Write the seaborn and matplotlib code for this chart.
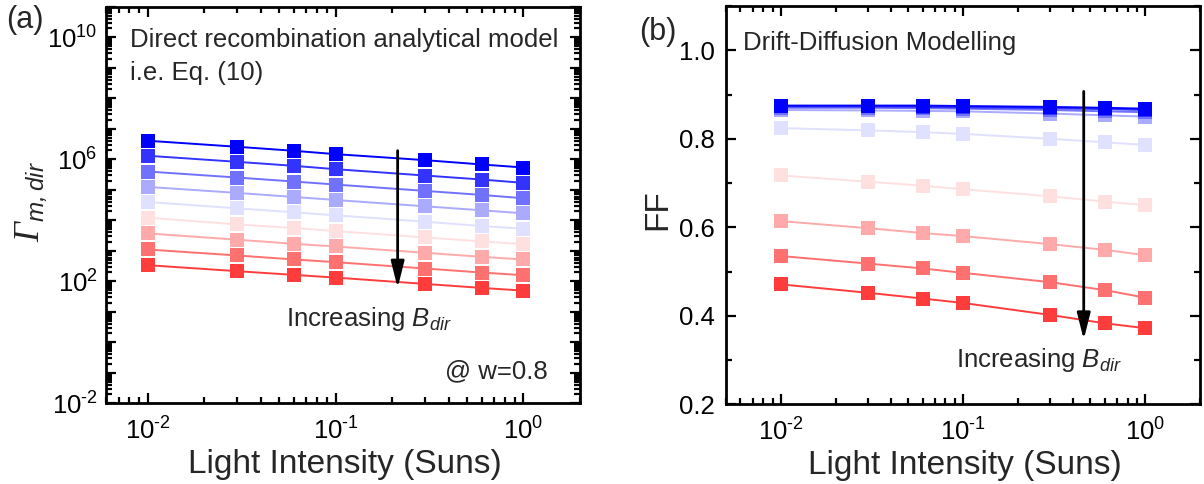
import numpy as np
import pandas as pd
import matplotlib
matplotlib.use("Agg")
import matplotlib.pyplot as plt
from matplotlib.ticker import LogLocator, FuncFormatter, MultipleLocator, NullFormatter
import seaborn as sns

# ---- data -------------------------------------------------------------
intensity = [0.01, 0.03, 0.06, 0.1, 0.3, 0.6, 1.0]  # Suns

# (a) Gamma_m,dir from the direct recombination analytical model, lowest B_dir first
gamma_1 = [4.04e6, 2.56e6, 1.89e6, 1.47e6, 9.33e5, 6.73e5, 5.36e5]
gamma_2 = [1.30e6, 8.22e5, 6.08e5, 4.72e5, 2.92e5, 2.16e5, 1.68e5]
gamma_3 = [3.96e5, 2.51e5, 1.86e5, 1.48e5, 9.16e4, 6.76e4, 5.25e4]
gamma_4 = [1.24e5, 7.87e4, 5.81e4, 4.62e4, 2.86e4, 2.12e4, 1.69e4]
gamma_5 = [3.98e4, 2.46e4, 1.82e4, 1.45e4, 8.97e3, 6.46e3, 5.28e3]
gamma_6 = [1.21e4, 7.33e3, 5.55e3, 4.43e3, 2.74e3, 2.02e3, 1.65e3]
gamma_7 = [3.71e3, 2.30e3, 1.69e3, 1.38e3, 857, 632, 518]
gamma_8 = [1.10e3, 700, 518, 423, 262, 193, 158]
gamma_9 = [337, 214, 162, 132, 81.8, 60.5, 49.4]

# (b) fill factor from drift-diffusion simulations, lowest B_dir first
ff_1 = [0.875, 0.875, 0.875, 0.874, 0.872, 0.870, 0.868]
ff_2 = [0.873, 0.873, 0.872, 0.871, 0.869, 0.867, 0.865]
ff_3 = [0.870, 0.870, 0.869, 0.868, 0.865, 0.862, 0.860]
ff_4 = [0.865, 0.864, 0.863, 0.862, 0.857, 0.853, 0.850]
ff_5 = [0.824, 0.819, 0.815, 0.811, 0.800, 0.792, 0.786]
ff_6 = [0.717, 0.703, 0.694, 0.686, 0.670, 0.658, 0.650]
ff_7 = [0.614, 0.598, 0.587, 0.580, 0.562, 0.549, 0.537]
ff_8 = [0.535, 0.518, 0.507, 0.497, 0.476, 0.458, 0.441]
ff_9 = [0.471, 0.452, 0.439, 0.429, 0.402, 0.383, 0.372]

series_colors = ["#0000FF", "#3333FF", "#7171FF", "#AAAAFF", "#E0E0FF",
                 "#FFE0E0", "#FFAAAA", "#FF7070", "#FF3C3C"]

gamma_ytick_exponents = [-2, 2, 6, 10]

# ---- style ------------------------------------------------------------
sns.set_theme(style="ticks")
plt.rcParams["font.family"] = ["Liberation Sans", "DejaVu Sans"]
plt.rcParams["mathtext.fontset"] = "custom"
plt.rcParams["mathtext.rm"] = "Liberation Sans"
plt.rcParams["mathtext.it"] = "Liberation Sans:italic"
plt.rcParams["mathtext.sf"] = "Liberation Sans:italic"
plt.rcParams["mathtext.bf"] = "Liberation Serif:italic"


def long_frame(rows, value_name):
    frames = []
    for i, vals in enumerate(rows):
        frames.append(pd.DataFrame({"intensity": intensity, value_name: vals,
                                    "series": f"s{i + 1}"}))
    return pd.concat(frames, ignore_index=True)


gamma_rows = [gamma_1, gamma_2, gamma_3, gamma_4, gamma_5, gamma_6, gamma_7, gamma_8, gamma_9]
ff_rows = [ff_1, ff_2, ff_3, ff_4, ff_5, ff_6, ff_7, ff_8, ff_9]
df_gamma = long_frame(gamma_rows, "gamma")
df_ff = long_frame(ff_rows, "ff")

names = [f"s{i + 1}" for i in range(9)]
palette = dict(zip(names, series_colors))
draw_order = names[::-1]  # reddest first, blue on top

W, H = 1204, 484
fig = plt.figure(figsize=(W / 100, H / 100), dpi=100)
fig.patch.set_facecolor("white")

axA = fig.add_axes([106 / W, (H - 403.3) / H, 474 / W, (403.3 - 6.7) / H])
axB = fig.add_axes([726 / W, (H - 404.3) / H, 474 / W, (404.3 - 6.0) / H])

line_kw = dict(marker="s", markersize=10, markeredgewidth=0, linewidth=1.4,
               legend=False, dashes=False)

sns.lineplot(data=df_gamma, x="intensity", y="gamma", hue="series",
             hue_order=draw_order, palette=palette, ax=axA, **line_kw)
sns.lineplot(data=df_ff, x="intensity", y="ff", hue="series",
             hue_order=draw_order, palette=palette, ax=axB, **line_kw)


def power_label(v):
    e = int(round(np.log10(v)))
    return rf"$10^{{\text{{{e}}}}}$"


for ax in (axA, axB):
    ax.set_facecolor("white")
    ax.set_xscale("log")
    ax.xaxis.set_major_locator(LogLocator(base=10, numticks=10))
    ax.xaxis.set_minor_locator(LogLocator(base=10, subs=np.arange(2, 10), numticks=20))
    ax.xaxis.set_major_formatter(FuncFormatter(lambda v, p: power_label(v)))
    ax.xaxis.set_minor_formatter(NullFormatter())
    for side in ax.spines.values():
        side.set_linewidth(2.0)
        side.set_color("black")
        side.set_visible(True)
    ax.tick_params(which="both", direction="in", top=True, right=True,
                   width=1.6, colors="black", labelsize=18.5)
    ax.tick_params(which="major", length=7)
    ax.tick_params(which="minor", length=4)
    ax.tick_params(axis="x", which="both", pad=10)
    ax.set_xlabel("Light Intensity (Suns)", fontsize=24)
    ax.grid(False)

# panel (a)
axA.set_xlim(0.006, 2.0)
axA.set_yscale("log")
axA.set_ylim(1e-2, 1e11)
axA.yaxis.set_major_locator(LogLocator(base=10, numticks=30))
axA.yaxis.set_minor_locator(LogLocator(base=10, subs=np.arange(2, 10), numticks=30))
axA.yaxis.set_minor_formatter(NullFormatter())


def gamma_tick(v, pos):
    e = int(round(np.log10(v)))
    return power_label(v) if e in gamma_ytick_exponents else ""


axA.yaxis.set_major_formatter(FuncFormatter(gamma_tick))
axA.tick_params(axis="y", which="both", pad=6)
axA.set_ylabel(r"$\mathbf{\Gamma}_{\mathsf{m,dir}}$", fontsize=25)
axA.yaxis.set_label_coords(-0.118, 0.51)
axA.xaxis.set_label_coords(0.503, -0.115)

axA.text(0.05, 0.898, "Direct recombination analytical model", transform=axA.transAxes,
         fontsize=18.5, va="baseline", ha="left")
axA.text(0.05, 0.816, "i.e. Eq. (10)", transform=axA.transAxes,
         fontsize=18.5, va="baseline", ha="left")
axA.text(0.38, 0.195, r"Increasing $\mathsf{B}_{\mathsf{dir}}$", transform=axA.transAxes,
         fontsize=18.5, va="baseline", ha="left")
axA.text(0.9325, 0.064, "@ w=0.8", transform=axA.transAxes,
         fontsize=18.5, va="baseline", ha="right")
axA.annotate("", xy=(0.214, 10 ** 1.78), xytext=(0.214, 10 ** 6.28),
             arrowprops=dict(arrowstyle="-|>,head_length=0.8,head_width=0.2",
                             color="black", lw=2, mutation_scale=20,
                             shrinkA=0, shrinkB=0))

# panel (b)
axB.set_xlim(0.005, 2.0)
axB.set_ylim(0.2, 1.1)
axB.yaxis.set_major_locator(MultipleLocator(0.2))
axB.yaxis.set_minor_locator(MultipleLocator(0.1))
axB.yaxis.set_major_formatter(FuncFormatter(lambda v, p: f"{v:.1f}" if v <= 1.01 else ""))
axB.tick_params(axis="y", which="both", pad=8)
axB.set_ylabel("FF", fontsize=24)
axB.yaxis.set_label_coords(-0.112, 0.49)
axB.xaxis.set_label_coords(0.503, -0.115)

axB.text(0.036, 0.89, "Drift-Diffusion Modelling", transform=axB.transAxes,
         fontsize=18.5, va="baseline", ha="left")
axB.text(0.485, 0.094, r"Increasing $\mathsf{B}_{\mathsf{dir}}$", transform=axB.transAxes,
         fontsize=18.5, va="baseline", ha="left")
axB.annotate("", xy=(0.46, 0.346), xytext=(0.46, 0.907),
             arrowprops=dict(arrowstyle="-|>,head_length=0.8,head_width=0.2",
                             color="black", lw=2, mutation_scale=20,
                             shrinkA=0, shrinkB=0))

fig.text(6 / W, 1 - 5 / H, "(a)", fontsize=22, va="top", ha="left")
fig.text(639 / W, 1 - 17 / H, "(b)", fontsize=22, va="top", ha="left")

fig.savefig("out.png", dpi=100, facecolor="white")
